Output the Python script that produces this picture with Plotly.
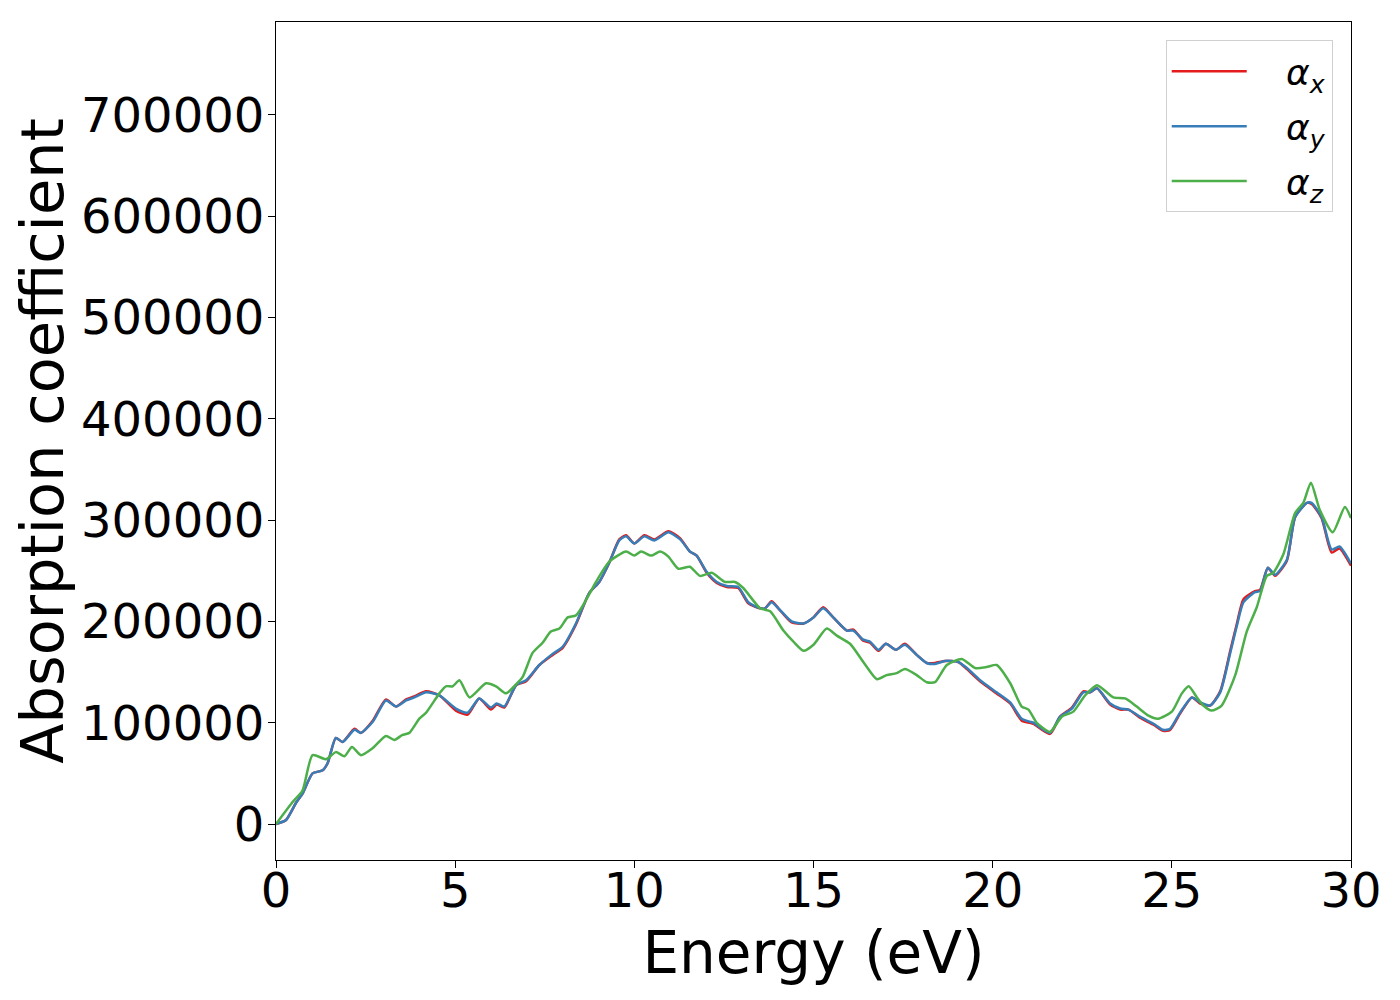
import plotly.graph_objects as go

# Energy grid points (eV) and absorption values (cm^-1)
E_xy = [0.0, 0.28, 0.56, 0.74, 1.02, 1.30, 1.44, 1.67, 1.86, 2.19, 2.37, 2.70, 3.07, 3.35, 3.63,
        3.86, 4.19, 4.56, 5.02, 5.35, 5.67, 6.00, 6.16, 6.37, 6.70, 6.98, 7.35, 7.72, 8.00, 8.37,
        8.74, 9.02, 9.30, 9.58, 9.77, 10.00, 10.28, 10.56, 10.95, 11.28, 11.55, 11.74, 12.02,
        12.30, 12.58, 12.90, 13.18, 13.51, 13.65, 13.83, 14.02, 14.39, 14.72, 15.00, 15.27,
        15.55, 15.93, 16.11, 16.39, 16.58, 16.81, 17.02, 17.30, 17.55, 17.88, 18.16, 18.39,
        18.67, 19.04, 19.28, 19.65, 20.11, 20.49, 20.81, 21.04, 21.14, 21.60, 21.88, 22.21,
        22.53, 22.72, 22.91, 23.28, 23.56, 23.79, 24.11, 24.49, 24.76, 24.95, 25.23, 25.56,
        25.79, 26.07, 26.35, 26.63, 26.81, 27.00, 27.32, 27.46, 27.68, 27.88, 28.21, 28.44,
        28.77, 28.90, 29.18, 29.46, 29.68, 30.00]

alpha_y = [0, 4000, 21000, 30000, 50000, 53000, 60000, 85000, 81000, 93000, 90000, 101000,
           122000, 116000, 122000, 125000, 130000, 127000, 114000, 110000, 124000, 115000,
           119000, 116000, 137000, 142000, 157000, 168000, 175000, 198000, 228000, 239000,
           258000, 280000, 284000, 277000, 284000, 280000, 288000, 281000, 269000, 265000,
           249000, 239000, 235000, 234000, 219000, 213000, 213000, 219000, 213000, 200000,
           198000, 204000, 213000, 204000, 191000, 191000, 182000, 180000, 172000, 178000,
           172000, 177000, 167000, 159000, 158000, 161000, 160000, 154000, 142000, 130000,
           120000, 104000, 101000, 100000, 90000, 106000, 114000, 130000, 130000, 134000,
           119000, 114000, 113000, 106000, 99000, 93000, 94000, 110000, 125000, 120000,
           117000, 130000, 169000, 195000, 219000, 229000, 230000, 253000, 246000, 261000,
           303000, 317000, 317000, 303000, 271000, 274000, 257000]

alpha_x = [0, 4000, 21000, 30000, 50000, 53000, 60000, 85000, 81000, 94000, 90000, 102000,
           123000, 116000, 123000, 126000, 131000, 127000, 112000, 108000, 124000, 113000,
           118000, 115000, 137000, 141000, 157000, 167000, 174000, 197000, 228000, 239000,
           258000, 281000, 285000, 277000, 285000, 281000, 289000, 282000, 269000, 265000,
           248000, 238000, 234000, 233000, 218000, 213000, 213000, 220000, 213000, 199000,
           198000, 204000, 214000, 204000, 191000, 192000, 181000, 179000, 171000, 178000,
           172000, 178000, 167000, 159000, 159000, 161000, 160000, 153000, 141000, 129000,
           119000, 102000, 100000, 99000, 89000, 106000, 115000, 131000, 130000, 134000,
           118000, 113000, 113000, 105000, 98000, 92000, 93000, 109000, 125000, 119000,
           117000, 131000, 171000, 197000, 222000, 230000, 231000, 253000, 245000, 260000,
           303000, 317000, 316000, 302000, 268000, 272000, 255000]

E_z = [0.0, 0.47, 0.74, 1.02, 1.40, 1.67, 1.91, 2.12, 2.37, 2.70, 3.07, 3.30, 3.53, 3.72,
       4.00, 4.19, 4.56, 4.74, 4.93, 5.12, 5.40, 5.86, 6.14, 6.42, 6.70, 6.88, 7.16, 7.44,
       7.67, 7.91, 8.14, 8.37, 8.65, 8.93, 9.30, 9.77, 10.00, 10.19, 10.47, 10.72, 10.95,
       11.23, 11.55, 11.83, 12.16, 12.53, 12.81, 13.04, 13.51, 13.79, 14.16, 14.44, 14.72,
       15.00, 15.37, 15.65, 16.02, 16.39, 16.77, 17.04, 17.32, 17.55, 17.88, 18.16, 18.39,
       18.72, 19.14, 19.51, 19.83, 20.11, 20.49, 20.81, 21.00, 21.23, 21.60, 21.93, 22.25,
       22.58, 22.91, 23.37, 23.70, 24.02, 24.35, 24.62, 25.00, 25.28, 25.47, 25.70, 25.88,
       26.11, 26.39, 26.77, 27.09, 27.37, 27.65, 27.83, 28.11, 28.44, 28.67, 28.88, 29.13,
       29.49, 29.83, 30.00]

alpha_z = [0, 22000, 33000, 68000, 64000, 71000, 67000, 76000, 68000, 75000, 87000, 83000,
           88000, 90000, 104000, 110000, 129000, 136000, 136000, 142000, 125000, 139000,
           136000, 129000, 138000, 145000, 169000, 179000, 190000, 193000, 204000, 206000,
           221000, 239000, 259000, 269000, 265000, 269000, 265000, 269000, 264000, 252000,
           254000, 245000, 248000, 239000, 239000, 233000, 213000, 210000, 191000, 180000,
           171000, 177000, 193000, 186000, 178000, 160000, 143000, 147000, 149000, 153000,
           147000, 140000, 140000, 157000, 163000, 154000, 155000, 157000, 139000, 116000,
           113000, 100000, 91000, 106000, 111000, 127000, 137000, 125000, 124000, 116000,
           107000, 104000, 111000, 129000, 136000, 125000, 117000, 112000, 117000, 147000,
           190000, 214000, 245000, 248000, 266000, 307000, 317000, 337000, 310000, 288000,
           313000, 302000]

series_names = ["<i>α<sub>x</sub></i>", "<i>α<sub>y</sub></i>", "<i>α<sub>z</sub></i>"]
colors = ["#e41a1c", "#377eb8", "#4daf4a"]

x_ticks = [0, 5, 10, 15, 20, 25, 30]
y_ticks = [0, 100000, 200000, 300000, 400000, 500000, 600000, 700000]

fig = go.Figure()
for i, (xs, ys, name, c) in enumerate([(E_xy, alpha_x, series_names[0], colors[0]),
                                       (E_xy, alpha_y, series_names[1], colors[1]),
                                       (E_z, alpha_z, series_names[2], colors[2])]):
    fig.add_trace(go.Scatter(x=xs, y=ys, mode="lines", name="\u00a0\u00a0\u00a0" + name,
                             legendgroup=f"g{i}",
                             line=dict(color=c, width=2.5, shape="spline", smoothing=0.6)))

axis_common = dict(showline=True, linecolor="black", linewidth=1.3, mirror=True,
                   ticks="outside", ticklen=7, tickwidth=1.3, tickcolor="black",
                   showgrid=False, zeroline=False, automargin=False,
                   tickfont=dict(family="DejaVu Sans", size=48, color="black"))

fig.update_layout(
    width=1400, height=1000,
    margin=dict(l=268, r=57, t=14, b=148),
    plot_bgcolor="white", paper_bgcolor="white",
    font=dict(family="DejaVu Sans", color="black"),
    xaxis=dict(range=[0, 30], tickvals=x_ticks, ticklabelstandoff=-19,
               title=dict(text="Energy (eV)", font=dict(size=58)),
               **axis_common),
    yaxis=dict(range=[-35500, 791800], tickvals=y_ticks, tickformat="d",
               ticklabelstandoff=-6,
               title=dict(text="Absorption coefficient", font=dict(size=59)),
               **axis_common),
    legend=dict(x=0.983, y=0.978, xanchor="right", yanchor="top",
                bgcolor="white", bordercolor="#d0d0d0", borderwidth=1,
                font=dict(family="DejaVu Sans", size=36, color="black"),
                tracegroupgap=5, itemwidth=75),
    showlegend=True,
)

fig.write_html("out.html")
